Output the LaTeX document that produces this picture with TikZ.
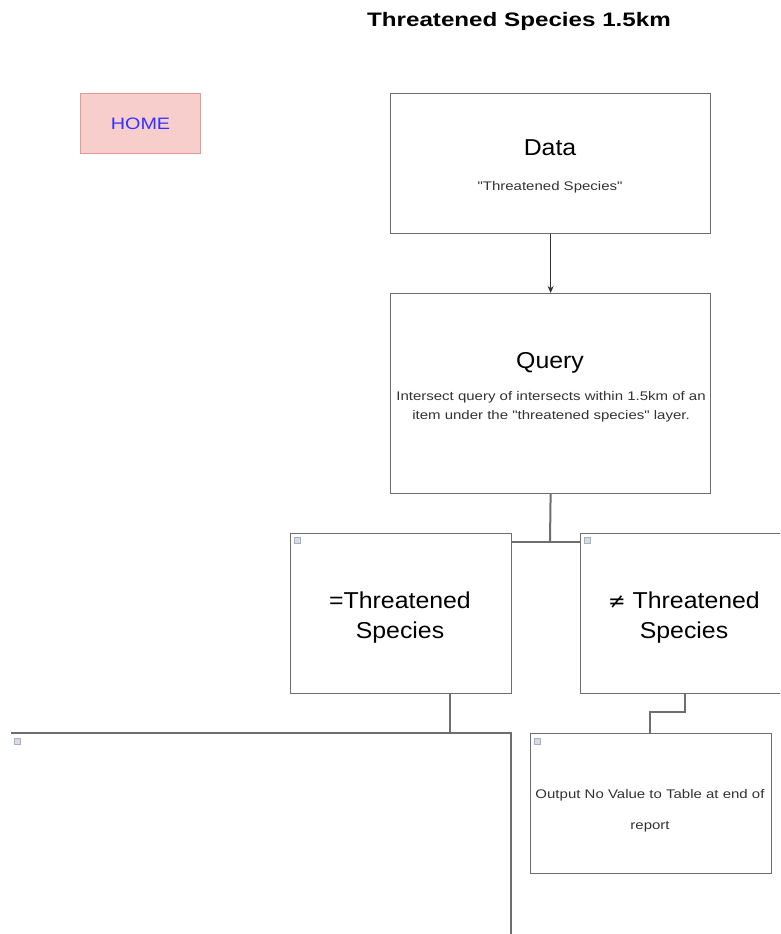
\documentclass[tikz,border=0pt]{standalone}
\usepackage{fontspec}
\setmainfont{Liberation Sans}
\newfontfamily\symfont{DejaVu Sans}
\newfontfamily\widefont[FakeStretch=1.2]{Liberation Sans}
\newfontfamily\titlefont[FakeStretch=1.24]{Liberation Sans Bold}
\newfontfamily\bigfont[FakeStretch=1.08]{Liberation Sans}
\usetikzlibrary{arrows.meta}
\definecolor{linegray}{HTML}{6E6E6E}
\definecolor{homefill}{HTML}{F8CECC}
\definecolor{homeline}{HTML}{E09A98}
\definecolor{homeblue}{HTML}{3333FF}
\definecolor{smalltxt}{HTML}{333333}
\definecolor{iconfill}{HTML}{D4DCE6}
\definecolor{iconline}{HTML}{A8B2BE}
\tikzset{
  box/.style={draw=linegray, line width=1.2pt, fill=white, anchor=north west, inner sep=0pt},
  conn/.style={draw=linegray, line width=1.1pt},
  bigtxt/.style={font=\bigfont\fontsize{23}{30}\selectfont, text=black, align=center},
  smtxt/.style={font=\widefont\fontsize{12.5}{19}\selectfont, text=smalltxt, align=center},
  icon/.style={draw=iconline, fill=iconfill, line width=0.6pt, minimum width=6pt, minimum height=6pt, inner sep=0pt, anchor=north west}
}
\begin{document}
\begin{tikzpicture}[x=1pt,y=-1pt]
\clip (0,0) rectangle (780,934);
\fill[white] (0,0) rectangle (780,934);
% title
\node[font=\titlefont\fontsize{19.5}{22}\selectfont] (title) at (519,21) {Threatened Species 1.5km};
% home
\node[draw=homeline, fill=homefill, line width=1pt, minimum width=120pt, minimum height=60pt, anchor=north west, inner sep=0pt,
      font=\widefont\fontsize{16.5}{18}\selectfont, text=homeblue] (home) at (80,93) {HOME};
% data
\node[box, minimum width=320pt, minimum height=140pt] (data) at (390,93) {};
\node[bigtxt] (datat) at (550,148) {Data};
\node[smtxt] (datas) at (550,187) {"Threatened Species"};
% query
\node[box, minimum width=320pt, minimum height=200pt] (query) at (390,293) {};
\node[bigtxt] (queryt) at (550,363) {Query};
\node[smtxt] (querys) at (551,407) {Intersect query of intersects within 1.5km of an\\item under the "threatened species" layer.};
% equal
\node[box, minimum width=221pt, minimum height=160pt] (eq) at (290,533) {};
\node[bigtxt] (eqt) at (400,618) {=Threatened\\Species};
\node[icon] (eqi) at (294,537) {};
% not equal
\node[box, minimum width=220pt, minimum height=160pt] (ne) at (580,533) {};
\node[bigtxt] (net) at (684,618) {{\symfont\fontsize{21}{30}\selectfont ≠} Threatened\\Species};
\node[icon] (nei) at (584,537) {};
% big box (cut off)
\coordinate (bigtl) at (11,733);
\coordinate (bigtr) at (511,733);
\coordinate (bigbr) at (511,934);
\draw[conn, line width=1.2pt] (bigtl) -- (bigtr) -- (bigbr);
\node[icon] (bigi) at (14,738) {};
% output
\node[box, minimum width=241pt, minimum height=140pt] (out) at (530,733) {};
\node[smtxt, font=\widefont\fontsize{12.5}{31}\selectfont] (outt) at (650,811) {Output No Value to Table at end of\\report};
\node[icon] (outi) at (534,738) {};
% connectors
\draw[conn, draw=black!80, line width=0.9pt, -{Stealth[length=7pt,width=6pt]}] (data.south) -- (query.north);
\coordinate (j) at (550,542);
\draw[conn, line width=2pt] (query.south) -- (j);
\draw[conn] (eq.east |- j) -- (ne.west |- j);
\coordinate (eqb) at (450,693);
\draw[conn] (eqb) -- (eqb |- bigtl);
\coordinate (neb) at (685,693);
\coordinate (outtop) at (650,733);
\draw[conn] (neb) -- (685,712) -- (650,712) -- (outtop);
\end{tikzpicture}
\end{document}
